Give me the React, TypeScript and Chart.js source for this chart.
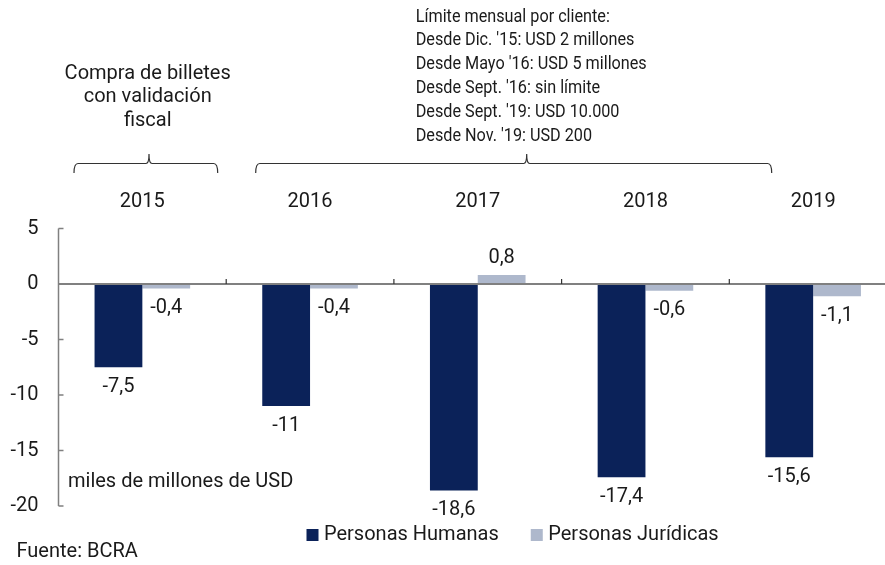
import React, { useEffect, useRef } from "react";
import { Chart, registerables } from "chart.js";

Chart.register(...registerables);

const categories = ["2015", "2016", "2017", "2018", "2019"];
const personasHumanas = [-7.5, -11, -18.6, -17.4, -15.6];
const personasJuridicas = [-0.4, -0.4, 0.8, -0.6, -1.1];
const seriesNames = ["Personas Humanas", "Personas Jurídicas"];
const seriesColors = ["#0b2259", "#aeb8cc"];
const yTicks = [5, 0, -5, -10, -15, -20];
const noteLeft = ["Compra de billetes", "con validación", "fiscal"];
const noteRight = [
  "Límite mensual por cliente:",
  "Desde Dic. '15: USD 2 millones",
  "Desde Mayo '16: USD 5 millones",
  "Desde Sept. '16: sin límite",
  "Desde Sept. '19: USD 10.000",
  "Desde Nov. '19: USD 200",
];
const unitLabel = "miles de millones de USD";
const sourceLabel = "Fuente: BCRA";

const FONT = "Roboto, 'Noto Sans', sans-serif";
const TEXT = "#1a1a1a";
const AXIS = "#808080";
const FS = 20;

const fmt = (v: number) => String(v).replace(".", ",");

const overlay = {
  id: "overlay",
  afterDatasetsDraw(chart: any) {
    const ctx = chart.ctx as CanvasRenderingContext2D;
    const area = chart.chartArea;
    const x = chart.scales.x;
    const y = chart.scales.y;
    ctx.save();

    // y axis line + inward ticks
    const yTop = y.getPixelForValue(yTicks[0]);
    const yBot = y.getPixelForValue(yTicks[yTicks.length - 1]);
    ctx.strokeStyle = AXIS;
    ctx.lineWidth = 1.5;
    ctx.beginPath();
    ctx.moveTo(area.left, yTop);
    ctx.lineTo(area.left, yBot);
    yTicks.forEach((v) => {
      const py = y.getPixelForValue(v);
      ctx.moveTo(area.left, py);
      ctx.lineTo(area.left + 5, py);
    });
    ctx.stroke();

    // zero line
    const y0 = y.getPixelForValue(0);
    ctx.lineWidth = 2;
    ctx.beginPath();
    ctx.moveTo(area.left, y0);
    ctx.lineTo(area.right, y0);
    ctx.stroke();

    // category separator ticks on zero line
    ctx.lineWidth = 1.2;
    ctx.strokeStyle = "#333";
    ctx.beginPath();
    for (let i = 0; i < categories.length - 1; i++) {
      const bx = (x.getPixelForValue(i) + x.getPixelForValue(i + 1)) / 2;
      ctx.moveTo(bx, y0);
      ctx.lineTo(bx, y0 - 5);
    }
    ctx.stroke();

    // data labels
    ctx.fillStyle = TEXT;
    ctx.font = `${FS}px ${FONT}`;
    ctx.textAlign = "center";
    ctx.textBaseline = "middle";
    chart.data.datasets.forEach((ds: any, di: number) => {
      const meta = chart.getDatasetMeta(di);
      meta.data.forEach((el: any, i: number) => {
        const v = ds.data[i];
        const ty = v < 0 ? el.y + 19.5 : el.y - 17;
        ctx.fillText(fmt(v), el.x, ty);
      });
    });

    // unit label
    ctx.textAlign = "left";
    ctx.fillText(unitLabel, 68, 482);

    // source
    ctx.fillText(sourceLabel, 16.5, 552);

    // legend
    let lx = 306.5;
    const ly = 535;
    chart.data.datasets.forEach((ds: any) => {
      ctx.fillStyle = ds.backgroundColor;
      ctx.fillRect(lx, ly - 6, 12, 12);
      ctx.fillStyle = TEXT;
      ctx.fillText(ds.label, lx + 17.5, ly);
      lx += 17.5 + ctx.measureText(ds.label).width + 32;
    });

    // annotations
    ctx.font = `20px ${FONT}`;
    ctx.textAlign = "center";
    noteLeft.forEach((t, i) => ctx.fillText(t, 147.7, 74 + i * 23.4));

    ctx.save();
    ctx.translate(415.7, 0);
    ctx.scale(0.9, 1);
    ctx.font = `18px ${FONT}`;
    ctx.textAlign = "left";
    noteRight.forEach((t, i) => ctx.fillText(t, 0, 17 + i * 23.8));
    ctx.restore();

    // brackets
    const bracket = (x1: number, x2: number, xp: number) => {
      const yh = 163.5;
      ctx.beginPath();
      ctx.moveTo(x1, 173);
      ctx.quadraticCurveTo(x1, yh, x1 + 4, yh);
      ctx.lineTo(xp - 3, yh);
      ctx.quadraticCurveTo(xp, yh, xp, 154);
      ctx.quadraticCurveTo(xp, yh, xp + 3, yh);
      ctx.lineTo(x2 - 4, yh);
      ctx.quadraticCurveTo(x2, yh, x2, 173);
      ctx.stroke();
    };
    ctx.strokeStyle = "#333";
    ctx.lineWidth = 1.2;
    bracket(74, 217.7, 149);
    bracket(255.7, 771.7, 526.7);

    ctx.restore();
  },
};

export default function App() {
  const ref = useRef<HTMLCanvasElement | null>(null);
  useEffect(() => {
    if (!ref.current) return;
    const chart = new Chart(ref.current, {
      type: "bar",
      data: {
        labels: categories,
        datasets: [
          {
            label: seriesNames[0],
            data: personasHumanas,
            backgroundColor: seriesColors[0],
            borderWidth: 0,
          },
          {
            label: seriesNames[1],
            data: personasJuridicas,
            backgroundColor: seriesColors[1],
            borderWidth: 0,
          },
        ],
      },
      options: {
        animation: false,
        responsive: false,
        maintainAspectRatio: false,
        layout: { padding: { left: 0, right: 3, top: 0, bottom: 59 } },
        datasets: { bar: { categoryPercentage: 0.57, barPercentage: 1 } },
        plugins: {
          legend: { display: false },
          tooltip: { enabled: false },
        },
        scales: {
          x: {
            position: "top",
            offset: true,
            grid: { display: false, drawTicks: false },
            border: { display: false },
            ticks: {
              padding: 14.5,
              color: TEXT,
              font: { family: FONT, size: FS },
              maxRotation: 0,
            },
            afterFit: (s: any) => {
              s.height = 228.5;
            },
          },
          y: {
            min: -20,
            max: 5,
            grid: { display: false, drawTicks: false },
            border: { display: false },
            ticks: {
              stepSize: 5,
              padding: 20,
              color: TEXT,
              font: { family: FONT, size: FS },
            },
            afterBuildTicks: (s: any) => {
              s.ticks = yTicks.map((v) => ({ value: v }));
            },
            afterFit: (s: any) => {
              s.width = 58.5;
            },
          },
        },
      },
      plugins: [overlay],
    });
    return () => chart.destroy();
  }, []);
  return (
    <div
      style={{
        position: "fixed",
        left: 0,
        top: 0,
        width: 885,
        height: 565,
        overflow: "hidden",
        background: "#fff",
      }}
    >
      <canvas ref={ref} width={900} height={565} style={{ display: "block" }} />
    </div>
  );
}
